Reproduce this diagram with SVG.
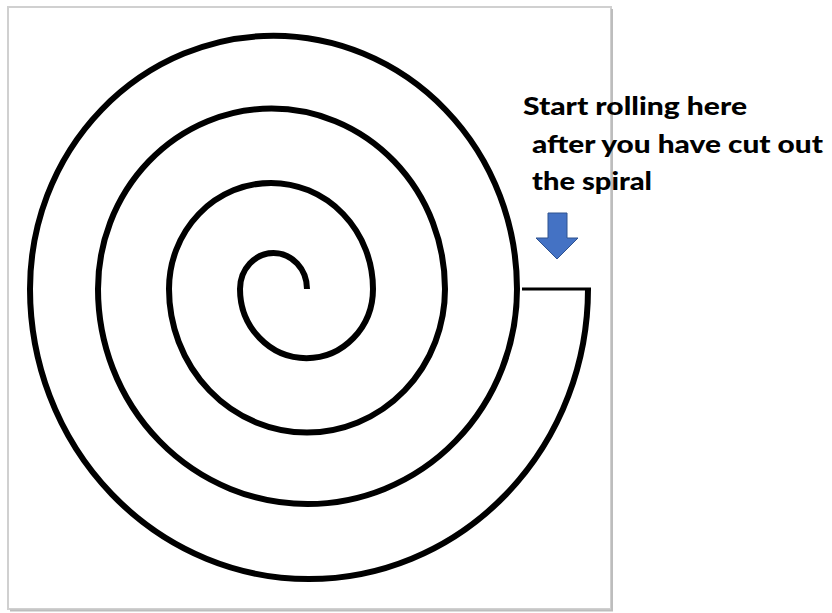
<svg xmlns="http://www.w3.org/2000/svg" width="832" height="613" viewBox="0 0 832 613">
<style>
.spiral{fill:none;stroke:#000;stroke-width:6;stroke-linecap:butt;stroke-linejoin:miter}
.cut{fill:none;stroke:#000;stroke-width:3}
.lbl{font-family:Lato,"Liberation Sans",sans-serif;font-weight:900;font-size:25px;fill:#000}
</style>
<rect x="0" y="0" width="832" height="613" fill="#fff"/>
<g id="frame">
<rect x="8" y="7" width="603" height="602" fill="#fff" stroke="#d0d0d0" stroke-width="2"/>
<line x1="612" y1="9" x2="612" y2="611" stroke="#bdbdbd" stroke-width="2"/>
<line x1="10" y1="610.5" x2="613" y2="610.5" stroke="#bdbdbd" stroke-width="2"/>
</g>
<g id="spiral">
<path class="spiral" d="M307,289 A33.5,36 0 0 0 240,289 A66.5,69.2 0 0 0 373,289 A102,106.1 0 0 0 169,289 A138,143.5 0 0 0 445,289 A173.5,180.4 0 0 0 98,289 A209.5,215 0 0 0 517,289 A243.5,253.2 0 0 0 30,289 A279,290.2 0 0 0 588,289"/>
</g>
<g id="connectors">
<line class="cut" x1="522" y1="289" x2="591" y2="289"/>
</g>
<g id="label">
<text class="lbl" x="523" y="115" textLength="224" lengthAdjust="spacingAndGlyphs">Start rolling here</text>
<text class="lbl" x="532" y="152.5" textLength="291" lengthAdjust="spacingAndGlyphs">after you have cut out</text>
<text class="lbl" x="532" y="190" textLength="120" lengthAdjust="spacingAndGlyphs">the spiral</text>
</g>
<g id="arrow">
<path d="M548,213 H567 V238 H578 L557,259 L536,238 H548 Z" fill="#4472C4" stroke="#2F528F" stroke-width="1"/>
</g>
</svg>
